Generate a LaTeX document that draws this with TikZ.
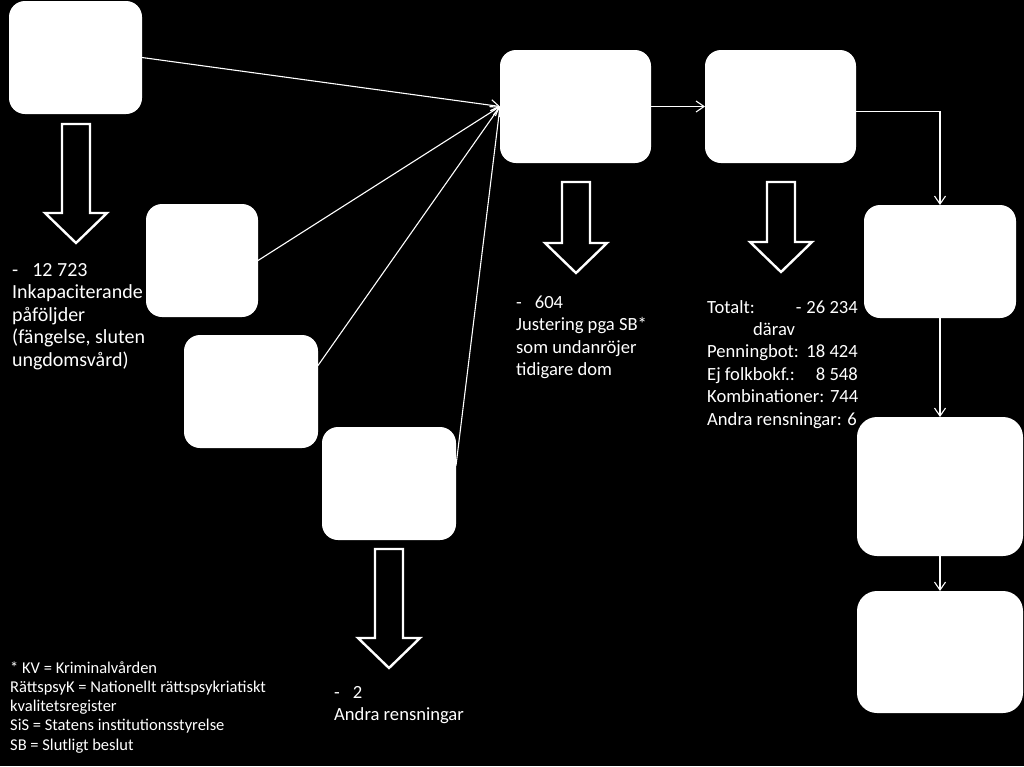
\documentclass[tikz,border=0pt]{standalone}
\usepackage{fontspec}
\setmainfont{Carlito}
\usetikzlibrary{arrows.meta}
\newcommand{\hollowdown}[3]{%
  \draw[blockarrow] (#1-14,#2) -- (#1+14,#2) -- (#1+14,#3-30) -- (#1+31,#3-30)
    -- (#1,#3) -- (#1-31,#3-30) -- (#1-14,#3-30) -- cycle;}
\begin{document}
\begin{tikzpicture}[x=1pt,y=-1pt,
  box/.style={fill=white,draw=none,rounded corners=16pt,inner sep=0pt,outer sep=0pt,anchor=north west},
  conn/.style={draw=white,line width=1.1pt,-{Straight Barb[length=8pt,width=11pt]}},
  blockarrow/.style={draw=white,fill=black,line width=2.4pt,line join=miter},
  txt/.style={text=white,font=\fontsize{20}{22.5}\selectfont,inner sep=0pt,align=left,anchor=base west},
  txts/.style={txt,font=\fontsize{18.6}{22.4}\selectfont},
  legend/.style={text=white,font=\fontsize{16.5}{19.1}\selectfont,inner sep=0pt,align=left,anchor=base west}]
\fill[black] (0,0) rectangle (1024,766);
\useasboundingbox (0,0) rectangle (1024,766);
% boxes
\node[box,minimum width=133pt,minimum height=113pt] (A) at (9,1) {};
\node[box,minimum width=151pt,minimum height=113pt] (B) at (500,50) {};
\node[box,minimum width=151pt,minimum height=113pt] (C) at (705,50) {};
\node[box,minimum width=152pt,minimum height=113pt] (D) at (864,205) {};
\node[box,minimum width=166pt,minimum height=139pt,rounded corners=20pt] (E) at (857,417) {};
\node[box,minimum width=166pt,minimum height=122pt,rounded corners=20pt] (F) at (857,591) {};
\node[box,minimum width=112pt,minimum height=113pt] (G) at (146,204) {};
\node[box,minimum width=134pt,minimum height=113pt] (H) at (184,335) {};
\node[box,minimum width=134pt,minimum height=113pt] (I) at (322,427) {};
% connectors
\draw[conn] (A.east) -- (B.west);
\draw[conn] (G.east) -- (B.west);
\draw[conn] ([yshift=26pt]H.east) -- (B.west);
\draw[conn] ([yshift=18pt]I.east) -- (B.west);
\draw[conn] (B.east) -- (C.west);
\draw[conn] ([yshift=-5pt]C.east) -| (D.north);
\draw[conn] (D.south) -- (E.north);
\draw[conn] (E.south) -- (F.north);
% block arrows
\hollowdown{76}{124}{243}
\hollowdown{576}{182}{273}
\hollowdown{781}{182}{272}
\hollowdown{389}{549}{668}
% texts (base anchor = baseline of last line)
\node[txt] (tA) at (12,366) {-\hspace{14pt}12 723\\Inkapaciterande\\påföljder\\(fängelse, sluten\\ungdomsvård)};
\node[txts] (tB) at (516,375.5) {-\hspace{13pt}604\\Justering pga SB*\\som undanröjer\\tidigare dom};
\node[txts] (tC) at (707,425) {Totalt:\\\hspace*{46pt}därav\\Penningbot:\\Ej folkbokf.:\\Kombinationer: 744\\Andra rensningar: 6};
\node[txts,align=right,anchor=base east] (tCn) at (858,380.2) {-\hspace{5pt}26 234\\\mbox{}\\18 424\\8 548};
\node[txts] (tI) at (334,720.5) {-\hspace{13pt}2\\Andra rensningar};
\node[legend] (leg) at (10,750) {* KV = Kriminalvården\\RättspsyK = Nationellt rättspsykriatiskt\\kvalitetsregister\\SiS = Statens institutionsstyrelse\\SB = Slutligt beslut};
\end{tikzpicture}
\end{document}
